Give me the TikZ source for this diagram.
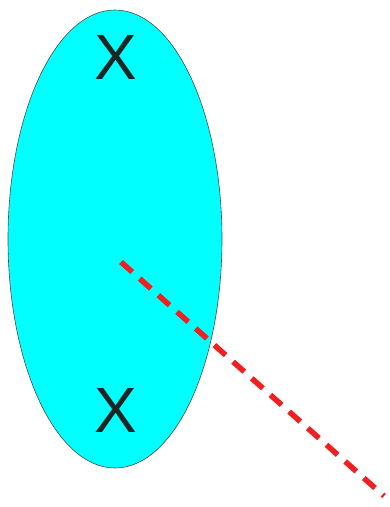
\documentclass[tikz,border=0pt]{standalone}
\usepackage{fontspec}
\setmainfont{Liberation Sans}
\definecolor{cyanfill}{HTML}{00FFFF}
\definecolor{xcol}{HTML}{1A2626}
\definecolor{redline}{HTML}{F02020}
\begin{document}
\begin{tikzpicture}[x=1pt,y=-1pt,
  blob/.style={draw=black!70,line width=0.6pt,fill=cyanfill},
  xmark/.style={inner sep=0pt,text=xcol,font=\fontsize{64}{64}\selectfont},
  redash/.style={draw=redline,line width=5.5pt,dash pattern=on 15pt off 10pt}]
\useasboundingbox (0,0) rectangle (390,507);
\draw[blob] (115,239) ellipse [x radius=107, y radius=229];
\node[xmark] (xtop) at (116,57) {X};
\node[xmark] (xbot) at (116,410) {X};
\coordinate (s) at (121,262);
\coordinate (e) at (384,496);
\draw[redash] (s) -- (e);
\end{tikzpicture}
\end{document}
